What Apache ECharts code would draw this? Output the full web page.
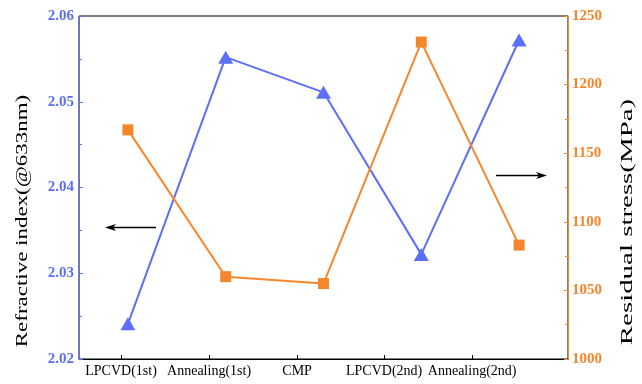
<!DOCTYPE html>
<html><head><meta charset="utf-8">
<script src="https://cdn.jsdelivr.net/npm/echarts@6/dist/echarts.min.js"></script>
<style>html,body{margin:0;padding:0;background:#fff}#c{width:642px;height:384px}</style>
</head><body><div id="c"></div>
<script>
const categories = ['LPCVD(1st)', 'Annealing(1st)', 'CMP', 'LPCVD(2nd)', 'Annealing(2nd)'];
const refractiveIndex = [2.0241, 2.0552, 2.0511, 2.0322, 2.0572];
const residualStress = [1167, 1060, 1055, 1231, 1083];
const catPositions = [1, 2, 3, 4, 5];
const labelPositions = [0.93, 1.83, 2.73, 3.62, 4.52];
const leftTicks = [2.02, 2.03, 2.04, 2.05, 2.06];
const rightTicks = [1000, 1050, 1100, 1150, 1200, 1250];

const BLUE = '#5b6ff7';
const ORANGE = '#f5862c';
const FONT = '"Liberation Serif", "Times New Roman", serif';

const chart = echarts.init(document.getElementById('c'));
chart.setOption({
  animation: false,
  backgroundColor: '#fff',
  grid: { left: 79, right: 74, top: 16, bottom: 25, show: true, borderColor: '#000', borderWidth: 1 },
  xAxis: {
    type: 'value', min: 0.5, max: 5.5,
    splitLine: { show: false },
    axisLine: { lineStyle: { color: '#000', width: 1 } },
    axisTick: { inside: true, length: 4, customValues: labelPositions, lineStyle: { color: '#000' } },
    axisLabel: {
      customValues: labelPositions,
      formatter: v => { const i = labelPositions.findIndex(p => Math.abs(p - v) < 1e-6); return i >= 0 ? categories[i] : ''; },
      color: '#000', fontFamily: FONT, fontSize: 14, margin: 5
    }
  },
  yAxis: [
    {
      type: 'value', min: leftTicks[0], max: leftTicks[leftTicks.length - 1], interval: 0.01,
      position: 'left',
      splitLine: { show: false },
      axisLine: { show: true, lineStyle: { color: BLUE, width: 1 } },
      axisTick: { inside: true, length: 4, lineStyle: { color: BLUE } },
      minorTick: { show: true, splitNumber: 2, length: 3, lineStyle: { color: BLUE } },
      axisLabel: { formatter: v => v.toFixed(2), color: BLUE, fontFamily: FONT, fontSize: 15, fontWeight: 'bold', margin: 5 }
    },
    {
      type: 'value', min: rightTicks[0], max: rightTicks[rightTicks.length - 1], interval: 50,
      position: 'right',
      splitLine: { show: false },
      axisLine: { show: true, lineStyle: { color: ORANGE, width: 1 } },
      axisTick: { inside: true, length: 4, lineStyle: { color: ORANGE } },
      minorTick: { show: true, splitNumber: 2, length: 3, lineStyle: { color: ORANGE } },
      axisLabel: { formatter: v => String(v), color: ORANGE, fontFamily: FONT, fontSize: 15, fontWeight: 'bold', margin: 4 }
    }
  ],
  series: [
    {
      type: 'line', yAxisIndex: 0,
      data: catPositions.map((x, i) => [x, refractiveIndex[i]]),
      symbol: 'triangle', symbolSize: [15, 13],
      lineStyle: { color: BLUE, width: 2 },
      itemStyle: { color: BLUE }
    },
    {
      type: 'line', yAxisIndex: 1,
      data: catPositions.map((x, i) => [x, residualStress[i]]),
      symbol: 'rect', symbolSize: 11,
      lineStyle: { color: ORANGE, width: 2 },
      itemStyle: { color: ORANGE }
    }
  ],
  graphic: [
    { type: 'text', rotation: Math.PI / 2, x: 23, y: 221, scaleX: 1.35, style: { text: 'Refractive index(@633nm)', font: '17px ' + FONT, fill: '#000', textAlign: 'center', textVerticalAlign: 'middle' } },
    { type: 'text', rotation: Math.PI / 2, x: 628, y: 222, scaleX: 1.7, style: { text: 'Residual stress(MPa)', font: '17px ' + FONT, fill: '#000', textAlign: 'center', textVerticalAlign: 'middle' } },
    { type: 'line', shape: { x1: 156, y1: 227.5, x2: 112, y2: 227.5 }, style: { stroke: '#000', lineWidth: 1.5 } },
    { type: 'polygon', shape: { points: [[105, 227.5], [116, 224], [113, 227.5], [116, 231]] }, style: { fill: '#000' } },
    { type: 'line', shape: { x1: 496, y1: 175.5, x2: 540, y2: 175.5 }, style: { stroke: '#000', lineWidth: 1.5 } },
    { type: 'polygon', shape: { points: [[547, 175.5], [536, 172], [539, 175.5], [536, 179]] }, style: { fill: '#000' } }
  ]
});
</script></body></html>
